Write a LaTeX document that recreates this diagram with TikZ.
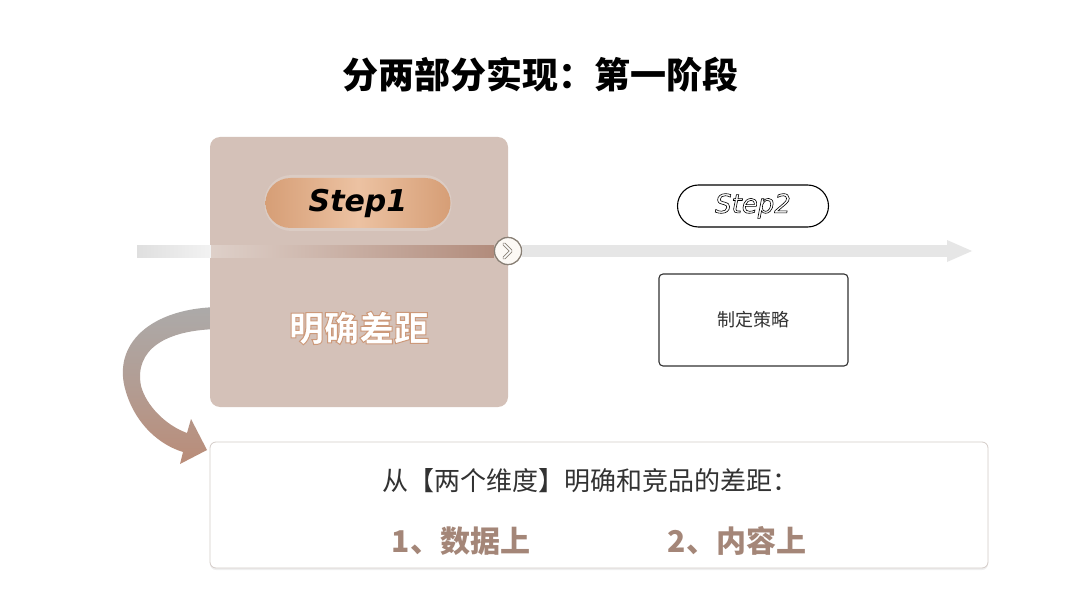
\documentclass[tikz,border=0pt]{standalone}
\usepackage{fontspec}
\usetikzlibrary{shadows,calc}
\newfontfamily\cjk{Noto Sans CJK SC}
\newfontfamily\stepfont{DejaVu Sans}
\newcommand{\outlinetxt}[2]{\special{pdf:literal direct #1}#2\special{pdf:literal direct 0 Tr}}
\definecolor{boxc}{RGB}{212,193,184}
\definecolor{pillmid}{RGB}{236,194,162}
\definecolor{pilledge}{RGB}{214,158,118}
\definecolor{bardark}{RGB}{178,140,124}
\definecolor{barlight}{RGB}{222,208,201}
\definecolor{bargray}{RGB}{230,230,230}
\definecolor{numc}{RGB}{164,134,120}
\definecolor{txtc}{RGB}{50,50,50}
\definecolor{arrgray}{RGB}{172,170,169}
\definecolor{arrbrown}{RGB}{186,140,120}
\definecolor{botborder}{RGB}{212,204,200}
\tikzset{
  bigbox/.style={fill=boxc, rounded corners=10pt, inner sep=0pt, minimum width=298pt, minimum height=270pt},
  pillone/.style={rounded corners=25pt, inner sep=0pt, minimum width=185pt, minimum height=50pt,
    left color=pilledge, right color=pilledge, middle color=pillmid},
  pilltwo/.style={draw=black, line width=1.1pt, fill=white, rounded corners=21pt, inner sep=0pt, minimum width=151pt, minimum height=42pt},
  planbox/.style={draw=txtc, line width=1.1pt, fill=white, rounded corners=4pt, inner sep=0pt, minimum width=189pt, minimum height=92pt},
  notebox/.style={draw=botborder, line width=0.8pt, fill=white, rounded corners=6pt, inner sep=0pt, minimum width=778pt, minimum height=126pt,
    drop shadow={opacity=0.12, shadow xshift=0pt, shadow yshift=-2pt}},
  chevnode/.style={circle, draw=gray!85!brown, line width=1.2pt, fill=white!95!brown, minimum size=27pt, inner sep=0pt},
}
\begin{document}
\begin{tikzpicture}[x=1pt,y=-1pt]
\useasboundingbox (0,0) rectangle (1080,607);
\fill[white] (0,0) rectangle (1080,607);

% title
\node (title) at (540,75) {\cjk\bfseries\fontsize{36}{40}\selectfont 分两部分实现：第一阶段};

% curved ribbon arrow (behind step1 box)
\shade[top color=arrgray, bottom color=arrbrown, middle color=arrgray!55!arrbrown]
  (222,307) .. controls (150,307) and (111,345) .. (126,392)
  .. controls (136,425) and (160,445) .. (183,452)
  -- (180,464) -- (207,450) -- (191,419) -- (187,433)
  .. controls (165,425) and (146,405) .. (141,386)
  .. controls (134,350) and (165,329) .. (222,329) -- cycle;

% step1 box
\node[bigbox] (s1box) at (359,272) {};

% timeline
\coordinate (tl0) at (137,251);
\coordinate (tl1) at (211,251);
\coordinate (tl3) at (947,251);
\coordinate (tl4) at (972,251);
\node[chevnode] (chev) at (508,251) {};
\shade[left color=gray!25, right color=white!90!gray] ($(tl0)+(0,-6)$) rectangle ($(tl1)+(0,6)$);
\shade[left color=barlight, right color=bardark] ($(tl1)+(0,-6)$) rectangle ($(chev.west)+(0,6)$);
\fill[bargray] ($(chev.east)+(0,-6)$) rectangle ($(tl3)+(0,6)$);
\fill[bargray] ($(tl3)+(0,-11)$) -- (tl4) -- ($(tl3)+(0,11)$) -- cycle;
\node[chevnode] at (chev) {};
\draw[draw=gray!85!brown, double=white, double distance=1.6pt, line width=0.9pt, line join=round, line cap=round]
  ($(chev)+(-4,-7)$) -- ($(chev)+(3,0)$) -- ($(chev)+(-4,7)$);

% step1 pill and text
\fill[white, opacity=0.18, rounded corners=27pt] (264.5,175) rectangle (451.5,231);
\node[pillone] (p1) at (358,203) {\stepfont\bfseries\itshape\fontsize{30}{34}\selectfont Step1};
\node (s1txt) at (359,328) {\cjk\bfseries\fontsize{35}{39}\selectfont\color{white}\outlinetxt{0.80 0.60 0.48 RG 2 Tr 1.0 w}{明确差距}};

% step2
\node[pilltwo] (p2) at (753,206) {\stepfont\itshape\fontsize{26}{30}\selectfont\color{white}\outlinetxt{0 G 2 Tr 0.6 w}{Step2}};
\node[planbox] (s2box) at (753.5,320) {\cjk\fontsize{18}{20}\selectfont\color{txtc}制定策略};

% bottom note box
\node[notebox] (bot) at (599,505) {};
\node (l1) at (590,481) {\cjk\fontsize{26}{30}\selectfont\color{txtc}从【两个维度】明确和竞品的差距：};
\node (l2a) at (461,541) {\cjk\bfseries\fontsize{30}{34}\selectfont\color{numc}1、数据上};
\node (l2b) at (737,541) {\cjk\bfseries\fontsize{30}{34}\selectfont\color{numc}2、内容上};
\end{tikzpicture}
\end{document}
